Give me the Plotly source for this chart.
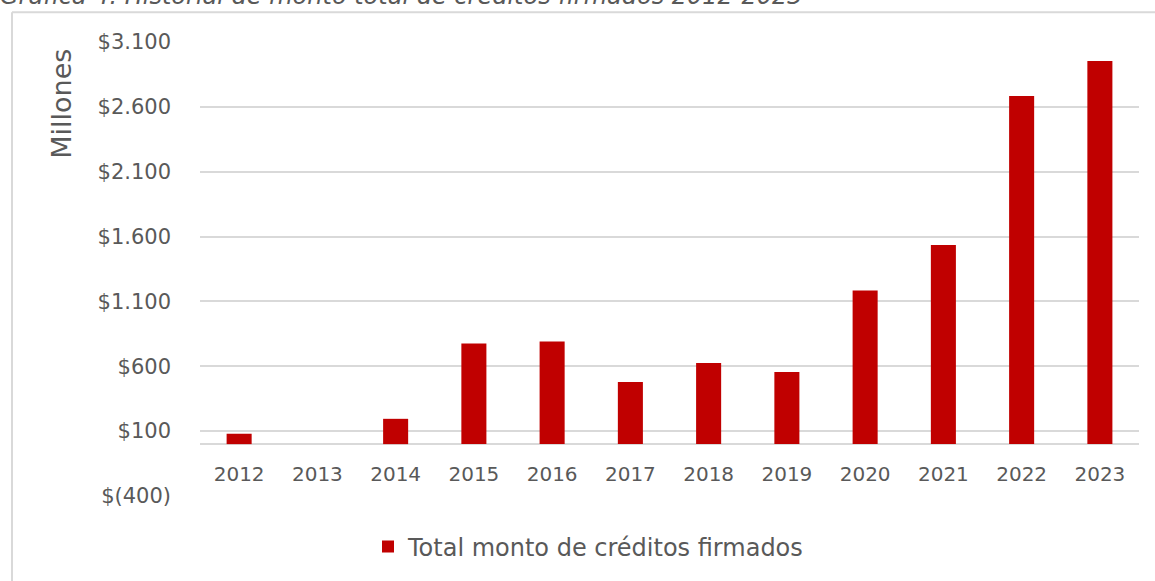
import plotly.graph_objects as go

years = ["2012", "2013", "2014", "2015", "2016", "2017", "2018", "2019", "2020", "2021", "2022", "2023"]
montos = [80, 0, 195, 776, 791, 479, 625, 556, 1185, 1535, 2683, 2954]
y_tickvals = [-400, 100, 600, 1100, 1600, 2100, 2600, 3100]
y_ticktext = ["$(400)", "$100", "$600", "$1.100", "$1.600", "$2.100", "$2.600", "$3.100"]
series_name = "Total monto de créditos firmados"
title_text = "Gráfica 4. Historial de monto total de créditos firmados 2012-2023"
y_title = "Millones"

GRAY_TXT = "#595959"
GRID = "#d9d9d9"
FONT = "DejaVu Sans"

fig = go.Figure()
fig.add_trace(go.Bar(
    x=years, y=montos, name=series_name,
    marker=dict(color="#C00000", line=dict(width=0)),
    showlegend=True,
))

W, H = 1155, 581
ml, mr, mt, mb = 200, 16, 42, 83
pw = W - ml - mr
ph = H - mt - mb

def px_x(p):
    return (p - ml) / pw

def px_y(p):
    return (H - mb - p) / ph

ymin, ymax = -400, 3100

fig.update_layout(
    width=W, height=H,
    margin=dict(l=ml, r=mr, t=mt, b=mb, pad=0),
    paper_bgcolor="white", plot_bgcolor="white",
    font=dict(family=FONT, color=GRAY_TXT, size=20),
    bargap=0.68,
    showlegend=True,
    legend=dict(
        orientation="h", x=px_x(368), xanchor="left",
        y=px_y(549), yanchor="middle",
        font=dict(family=FONT, size=24, color=GRAY_TXT),
        bgcolor="rgba(0,0,0,0)",
    ),
    xaxis=dict(
        type="category", anchor="free",
        position=(0 - ymin) / (ymax - ymin),
        showgrid=False, showline=False, ticks="",
        ticklabelstandoff=16,
        tickfont=dict(family=FONT, size=20, color=GRAY_TXT),
    ),
    yaxis=dict(
        range=[ymin, ymax], tickvals=y_tickvals, ticktext=y_ticktext,
        showgrid=True, gridcolor=GRID, gridwidth=1.5,
        zeroline=True, zerolinecolor=GRID, zerolinewidth=1.5,
        showline=False, ticks="", ticklabelstandoff=28,
        tickfont=dict(family=FONT, size=21, color=GRAY_TXT),
    ),
)

fig.add_annotation(
    text=y_title, xref="paper", yref="paper",
    x=px_x(62), y=px_y(104), xanchor="center", yanchor="middle",
    textangle=-90, showarrow=False,
    font=dict(family=FONT, size=27, color=GRAY_TXT),
)

fig.add_annotation(
    text=title_text, xref="paper", yref="paper",
    x=px_x(-2), y=px_y(12), xanchor="left", yanchor="bottom",
    showarrow=False,
    font=dict(family=FONT, size=24, color=GRAY_TXT, style="italic"),
)

# chart-area border (left and top edges visible)
fig.add_shape(type="line", xref="paper", yref="paper",
              x0=px_x(12), x1=px_x(12), y0=px_y(12), y1=px_y(600),
              line=dict(color=GRID, width=2))
fig.add_shape(type="line", xref="paper", yref="paper",
              x0=px_x(12), x1=px_x(1160), y0=px_y(12), y1=px_y(12),
              line=dict(color=GRID, width=2))

fig.write_html("out.html", config={"displayModeBar": False},
               post_script="document.body.style.margin='0';")
